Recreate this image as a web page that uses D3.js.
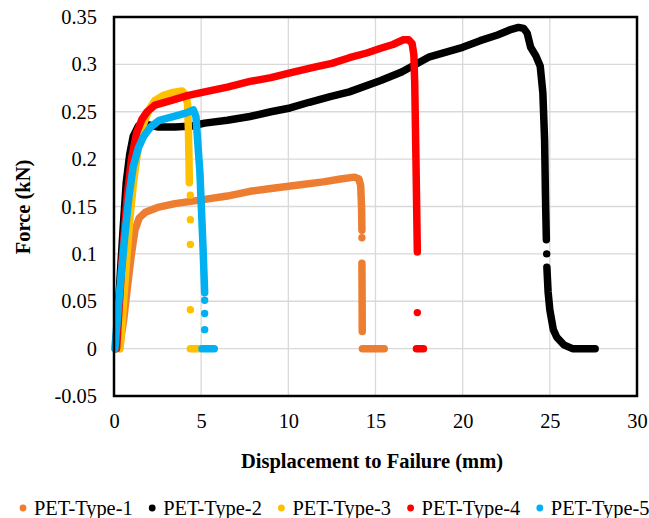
<!DOCTYPE html>
<html>
<head>
<meta charset="utf-8">
<script src="https://cdn.jsdelivr.net/npm/d3@7"></script>
<style>
  body { margin: 0; background: #fff; }
  svg { display: block; }
  svg text { font-family: "Liberation Serif", "Times New Roman", "DejaVu Serif", serif !important; }
</style>
</head>
<body>
<svg id="chart" width="649" height="518"></svg>
<script>
const seriesNames = ["PET-Type-1", "PET-Type-2", "PET-Type-3", "PET-Type-4", "PET-Type-5"];
const seriesColors = ["#ED7D31", "#000000", "#FFC000", "#FF0000", "#00B0F0"];
const xTicks = [0, 5, 10, 15, 20, 25, 30];
const yTicks = [-0.05, 0, 0.05, 0.1, 0.15, 0.2, 0.25, 0.3, 0.35];

// dense marker runs (displacement mm, force kN)
const type1Curve = [[0.3,0],[0.55,0.03],[0.8,0.07],[1.0,0.1],[1.2,0.125],[1.45,0.138],[1.8,0.144],[2.5,0.149],[3.5,0.153],[5,0.157],[6.5,0.161],[7.8,0.166],[9,0.169],[10.7,0.173],[12,0.176],[13,0.179],[13.8,0.181],[14.05,0.179],[14.15,0.172],[14.2,0.15],[14.22,0.125]];
const type1Drop = [[14.22,0.09],[14.23,0.06],[14.24,0.018]];
const type1Zero = [[14.25,0],[15.5,0]];
const type1Dots = [[14.22,0.117]];

const type2Curve = [[0.1,0],[0.3,0.06],[0.5,0.12],[0.7,0.175],[0.9,0.205],[1.1,0.224],[1.4,0.235],[1.8,0.237],[2.5,0.234],[3.5,0.234],[4.5,0.235],[5.2,0.238],[6.5,0.241],[7.8,0.245],[9,0.25],[10.1,0.254],[11.2,0.26],[12.4,0.266],[13.5,0.271],[15.3,0.283],[16.5,0.292],[17.6,0.303],[18.1,0.308],[20,0.318],[21,0.325],[22,0.331],[22.8,0.337],[23.2,0.339],[23.5,0.338],[23.7,0.333],[23.9,0.318],[24.2,0.309],[24.45,0.298],[24.6,0.27],[24.7,0.22],[24.75,0.16],[24.8,0.115]];
const type2Drop = [[24.83,0.086],[24.9,0.06],[25.0,0.041],[25.2,0.02],[25.4,0.012],[25.8,0.004],[26.3,0],[27.6,0]];
const type2Zero = [];
const type2Dots = [[24.82,0.1]];

const type3Curve = [[0.35,0],[0.55,0.05],[0.75,0.1],[0.95,0.145],[1.15,0.18],[1.4,0.213],[1.7,0.237],[2.0,0.252],[2.35,0.262],[2.8,0.267],[3.3,0.27],[3.9,0.272],[4.1,0.268],[4.22,0.258],[4.27,0.23],[4.3,0.2],[4.32,0.175]];
const type3Drop = [];
const type3Zero = [[4.38,0],[4.9,0]];
const type3Dots = [[4.38,0.162],[4.38,0.136],[4.38,0.11],[4.38,0.041]];

const type4Curve = [[0.15,0],[0.45,0.09],[0.75,0.16],[1.0,0.2],[1.3,0.228],[1.6,0.242],[1.9,0.25],[2.35,0.257],[3.3,0.262],[4.2,0.267],[5.2,0.271],[6.5,0.276],[7.8,0.282],[9,0.286],[10.1,0.291],[11.5,0.297],[12.5,0.301],[13.5,0.307],[14.5,0.312],[15.3,0.317],[16,0.321],[16.6,0.326],[16.9,0.326],[17.1,0.322],[17.2,0.31],[17.25,0.28],[17.32,0.2],[17.4,0.102]];
const type4Drop = [];
const type4Zero = [[17.35,0],[17.75,0]];
const type4Dots = [[17.4,0.038]];

const type5Curve = [[0.05,0],[0.3,0.055],[0.6,0.115],[0.85,0.16],[1.1,0.192],[1.4,0.212],[1.7,0.224],[2.1,0.234],[2.6,0.241],[3.6,0.246],[4.2,0.249],[4.55,0.252],[4.7,0.245],[4.93,0.185],[5.1,0.11],[5.2,0.059]];
const type5Drop = [];
const type5Zero = [[5.05,0],[5.75,0]];
const type5Dots = [[5.2,0.051],[5.2,0.037],[5.2,0.02]];

const series = [
  { curves: [type1Curve, type1Drop, type1Zero], dots: type1Dots },
  { curves: [type2Curve, type2Drop, type2Zero], dots: type2Dots },
  { curves: [type3Curve, type3Drop, type3Zero], dots: type3Dots },
  { curves: [type4Curve, type4Drop, type4Zero], dots: type4Dots },
  { curves: [type5Curve, type5Drop, type5Zero], dots: type5Dots }
];

const plot = { left: 114, right: 637, top: 17, bottom: 396 };
const fontSize = 20.4;

const svg = d3.select("#chart");

const x = d3.scaleLinear().domain([0, 30]).range([plot.left, plot.right]);
const y = d3.scaleLinear().domain([-0.05, 0.35]).range([plot.bottom, plot.top]);

// gridlines
svg.append("g")
  .selectAll("line.hgrid")
  .data(yTicks)
  .enter()
  .append("line")
  .attr("x1", plot.left).attr("x2", plot.right)
  .attr("y1", d => y(d)).attr("y2", d => y(d))
  .attr("stroke", "#d9d9d9").attr("stroke-width", 1.3);

svg.append("g")
  .selectAll("line.vgrid")
  .data(xTicks)
  .enter()
  .append("line")
  .attr("x1", d => x(d)).attr("x2", d => x(d))
  .attr("y1", plot.top).attr("y2", plot.bottom)
  .attr("stroke", "#d9d9d9").attr("stroke-width", 1.3);

// axis labels via d3 axes, no ticks or domain
const fmt = d => String(+d.toFixed(2));

const yAxis = svg.append("g")
  .attr("transform", `translate(${plot.left},0)`)
  .call(d3.axisLeft(y).tickValues(yTicks).tickFormat(fmt).tickSize(0).tickPadding(17));
const xAxis = svg.append("g")
  .attr("transform", `translate(0,${plot.bottom})`)
  .call(d3.axisBottom(x).tickValues(xTicks).tickFormat(fmt).tickSize(0).tickPadding(18));

[yAxis, xAxis].forEach(a => {
  a.select(".domain").remove();
  a.attr("font-family", null).attr("font-size", fontSize);
  a.selectAll("text").attr("fill", "#000");
});

// series
const line = d3.line().x(d => x(d[0])).y(d => y(d[1]));

series.forEach((s, i) => {
  const g = svg.append("g");
  s.curves.filter(c => c.length).forEach(c => {
    g.append("path")
      .attr("d", line(c))
      .attr("fill", "none")
      .attr("stroke", seriesColors[i])
      .attr("stroke-width", 7.5)
      .attr("stroke-linecap", "round")
      .attr("stroke-linejoin", "round");
  });
  g.selectAll("circle")
    .data(s.dots)
    .enter()
    .append("circle")
    .attr("cx", d => x(d[0]))
    .attr("cy", d => y(d[1]))
    .attr("r", 3.7)
    .attr("fill", seriesColors[i]);
});

// plot border
svg.append("rect")
  .attr("x", plot.left).attr("y", plot.top)
  .attr("width", plot.right - plot.left)
  .attr("height", plot.bottom - plot.top)
  .attr("fill", "none")
  .attr("stroke", "#000")
  .attr("stroke-width", 2.5);

// axis titles
svg.append("text")
  .attr("x", 372).attr("y", 468)
  .attr("text-anchor", "middle")
  .attr("font-weight", "bold")
  .attr("font-size", 20.5)
  .text("Displacement to Failure (mm)");

svg.append("text")
  .attr("transform", "translate(30,207) rotate(-90)")
  .attr("text-anchor", "middle")
  .attr("font-weight", "bold")
  .attr("font-size", 20.5)
  .text("Force (kN)");

// legend
const legend = svg.append("g")
  .selectAll("g")
  .data(seriesNames)
  .enter()
  .append("g")
  .attr("transform", (d, i) => `translate(${23 + i * 129.2},508)`);

legend.append("circle")
  .attr("r", 3.4)
  .attr("fill", (d, i) => seriesColors[i]);

legend.append("text")
  .attr("x", 11)
  .attr("y", 7)
  .attr("font-size", fontSize)
  .text(d => d);
</script>
</body>
</html>
